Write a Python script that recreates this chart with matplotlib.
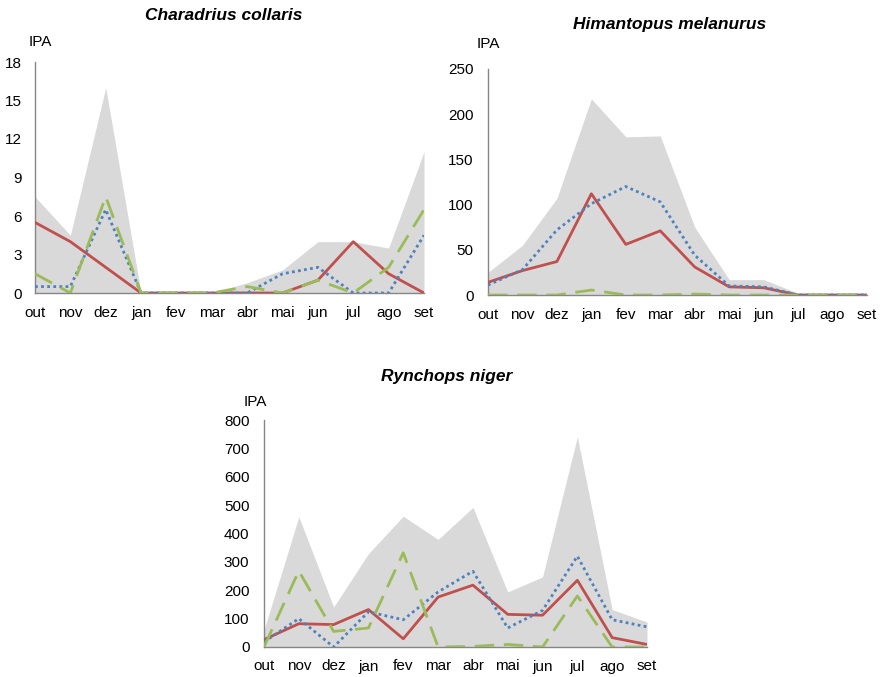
import matplotlib
matplotlib.use("Agg")
import matplotlib.pyplot as plt

plt.rcParams['font.family'] = ['Liberation Sans', 'DejaVu Sans']

months = ["out", "nov", "dez", "jan", "fev", "mar", "abr", "mai", "jun", "jul", "ago", "set"]

# Charadrius collaris
cc_max = [7.5, 4.5, 16, 0, 0, 0, 0.8, 1.8, 4.0, 4.0, 3.5, 11]
cc_red = [5.5, 4.0, 2.0, 0, 0, 0, 0, 0, 1.0, 4.0, 1.5, 0]
cc_blue = [0.5, 0.5, 6.5, 0, 0, 0, 0, 1.5, 2.0, 0, 0, 4.5]
cc_green = [1.5, 0, 7.5, 0, 0, 0, 0.5, 0, 1.0, 0, 2.0, 6.5]

# Himantopus melanurus
hm_max = [25, 55, 107, 217, 175, 176, 75, 17, 17, 2, 0, 0]
hm_red = [14, 27, 37, 112, 56, 71, 31, 9, 8, 0, 0, 0]
hm_blue = [11, 28, 72, 101, 120, 103, 44, 10, 9, 0, 0, 0]
hm_green = [0, 0, 0, 5.5, 0, 0, 1, 0, 0, 0, 0, 0]

# Rynchops niger
rn_max = [60, 459, 141, 329, 461, 379, 492, 194, 247, 741, 132, 88]
rn_red = [26, 82, 79, 132, 29, 176, 218, 115, 112, 235, 33, 9]
rn_blue = [18, 100, 0, 124, 96, 194, 267, 67, 129, 320, 96, 71]
rn_green = [0, 268, 55, 67, 332, 0, 2, 9, 0, 180, 0, 0]

W, H = 885, 677
fig = plt.figure(figsize=(W / 100, H / 100), dpi=100)


def make_axes(x0, x1, ytop, ybot):
    return fig.add_axes([x0 / W, 1 - ybot / H, (x1 - x0) / W, (ybot - ytop) / H])


def draw(ax, vmax, red, blue, green, ymax, ystep, ypad):
    x = list(range(len(months)))
    ax.fill_between(x, 0, vmax, color="#D9D9D9", linewidth=0, zorder=1)
    ax.plot(x, red, color="#C0504D", lw=2.0, zorder=3, solid_capstyle="butt")
    ax.plot(x, blue, color="#4F81BD", lw=2.0, ls=(0, (1, 1.2)), zorder=3)
    ax.plot(x, green, color="#9BBB59", lw=2.0, ls=(0, (7, 3.5)), zorder=4)
    ax.set_xlim(0, 11)
    ax.set_ylim(0, ymax)
    ax.set_xticks(x)
    ax.set_xticklabels(months)
    ax.set_yticks(list(range(0, ymax + 1, ystep)))
    for s in ["top", "right"]:
        ax.spines[s].set_visible(False)
    for s in ["left", "bottom"]:
        ax.spines[s].set_color("#868686")
        ax.spines[s].set_linewidth(1.0)
    ax.spines["bottom"].set_zorder(2)
    ax.tick_params(axis="both", length=0, labelsize=11, colors="black")
    ax.tick_params(axis="x", pad=9)
    ax.tick_params(axis="y", pad=ypad)
    ax.set_facecolor("none")


ax1 = make_axes(35, 424, 62, 293)
draw(ax1, cc_max, cc_red, cc_blue, cc_green, 18, 3, 9.5)
ax2 = make_axes(488, 867, 69, 295)
draw(ax2, hm_max, hm_red, hm_blue, hm_green, 250, 50, 10.5)
ax3 = make_axes(264, 647, 420, 647)
draw(ax3, rn_max, rn_red, rn_blue, rn_green, 800, 100, 10.5)

tkw = dict(ha="center", va="center", fontsize=12.5, fontweight="bold", fontstyle="italic")
fig.text(224 / W, 1 - 16 / H, "Charadrius collaris", **tkw)
fig.text(670 / W, 1 - 24 / H, "Himantopus melanurus", **tkw)
fig.text(447 / W, 1 - 376 / H, "Rynchops niger", **tkw)

ikw = dict(ha="center", va="center", fontsize=11)
fig.text(40 / W, 1 - 42 / H, "IPA", **ikw)
fig.text(488 / W, 1 - 44 / H, "IPA", **ikw)
fig.text(255 / W, 1 - 402 / H, "IPA", **ikw)

fig.savefig("out.png", dpi=100)
